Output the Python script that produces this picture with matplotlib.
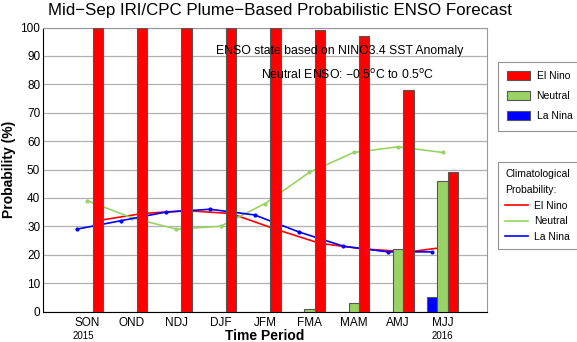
import numpy as np
import matplotlib
matplotlib.use('Agg')
import matplotlib.pyplot as plt
from matplotlib.patches import Patch
from matplotlib.lines import Line2D

plt.rcParams['font.family'] = ['Liberation Sans', 'DejaVu Sans']

# data
periods = ['SON', 'OND', 'NDJ', 'DJF', 'JFM', 'FMA', 'MAM', 'AMJ', 'MJJ']
el_nino = [100, 100, 100, 100, 100, 99, 97, 78, 49]
neutral = [0, 0, 0, 0, 0, 1, 3, 22, 46]
la_nina = [0, 0, 0, 0, 0, 0, 0, 0, 5]
clim_el_nino = [32, 34.5, 35.5, 34.5, 29, 24, 22, 21, 23]
clim_neutral = [39, 33, 29, 30, 38, 49, 56, 58, 56]
clim_la_nina = [29, 32, 35, 36, 34, 28, 23, 21, 21]

c_red = '#ff0000'
c_green = '#99d366'
c_blue = '#0000ff'

fig = plt.figure(figsize=(5.77, 3.42), dpi=100)
ax = fig.add_axes([43 / 577, 1 - 311.5 / 342, 444 / 577, 284 / 342])

x = np.arange(1, len(periods) + 1)
w = 0.235

# climatology lines (behind the bars)
ax.plot(x + w, clim_el_nino, color=c_red, lw=1.2, zorder=2)
ax.plot(x, clim_neutral, color=c_green, lw=1.2, marker='o', ms=2, zorder=2)
ax.plot(x - w, clim_la_nina, color=c_blue, lw=1.2, marker='o', ms=2, zorder=2)

bar_kw = dict(width=w, edgecolor='#555555', linewidth=0.8, zorder=3)
for xi, v in zip(x, la_nina):
    if v > 0:
        ax.bar(xi - w, v, color=c_blue, **bar_kw)
for xi, v in zip(x, neutral):
    if v > 0:
        ax.bar(xi, v, color=c_green, **bar_kw)
ax.bar(x + w, el_nino, color=c_red, **bar_kw)

ax.set_xlim(0, 10)
ax.set_ylim(0, 100)
ax.set_yticks(range(0, 101, 10))
ax.set_xticks(x)
ax.set_xticklabels(periods, fontsize=8.5)
ax.tick_params(axis='both', length=0, labelsize=8.5)
ax.tick_params(axis='x', pad=4)
ax.tick_params(axis='y', pad=2)
ax.grid(axis='y', color='#b0b0b0', lw=0.9, zorder=0)
ax.set_axisbelow(True)
for s in ['top', 'right']:
    ax.spines[s].set_color('#999999')
for s in ['left', 'bottom']:
    ax.spines[s].set_color('black')

ax.text(1 - 0.1, -0.07, '2015', transform=ax.get_xaxis_transform(),
        ha='center', va='top', fontsize=7)
ax.text(9, -0.07, '2016', transform=ax.get_xaxis_transform(),
        ha='center', va='top', fontsize=7)

fig.text(265 / 577, 1 - 336.5 / 342, 'Time Period', ha='center', va='center',
         fontsize=10, fontweight='bold')
fig.text(9 / 577, 1 - 169 / 342, 'Probability (%)', ha='center', va='center',
         rotation=90, fontsize=10, fontweight='bold')
fig.text(280 / 577, 1 - 11 / 342,
         'Mid\u2212Sep IRI/CPC Plume\u2212Based Probabilistic ENSO Forecast',
         ha='center', va='center', fontsize=12.2)

fig.text(340 / 577, 1 - 51 / 342, 'ENSO state based on NINO3.4 SST Anomaly',
         ha='center', va='center', fontsize=8.8)
fig.text(348 / 577, 1 - 75 / 342,
         'Neutral ENSO: \u22120.5$^\\mathrm{o}$C to 0.5$^\\mathrm{o}$C',
         ha='center', va='center', fontsize=8.8)

h1 = [Patch(facecolor=c_red, edgecolor='#555555', lw=0.8),
      Patch(facecolor=c_green, edgecolor='#555555', lw=0.8),
      Patch(facecolor=c_blue, edgecolor='#555555', lw=0.8)]
leg1 = fig.legend(h1, ['El Nino', 'Neutral', 'La Nina'],
                  loc='upper left', bbox_to_anchor=(498 / 577, 1 - 61.5 / 342),
                  fontsize=7.5, frameon=True, fancybox=False, edgecolor='#777777',
                  handlelength=2.2, handleheight=1.0, labelspacing=0.95,
                  handletextpad=0.6, borderpad=0.9, borderaxespad=0)
leg1.get_frame().set_linewidth(0.8)

h2 = [Line2D([], [], color=c_red, lw=1.2),
      Line2D([], [], color=c_green, lw=1.2),
      Line2D([], [], color=c_blue, lw=1.2)]
leg2 = fig.legend(h2, ['El Nino', 'Neutral', 'La Nina'],
                  loc='upper left', bbox_to_anchor=(498 / 577, 1 - 161.5 / 342),
                  title='Climatological\nProbability:', title_fontsize=7.5,
                  alignment='left',
                  fontsize=7.5, frameon=True, fancybox=False, edgecolor='#777777',
                  handlelength=2.2, labelspacing=0.55,
                  handletextpad=0.6, borderpad=0.7, borderaxespad=0)
leg2.get_title().set_linespacing(1.75)
leg2.get_frame().set_linewidth(0.8)

fig.savefig('out.png', dpi=100)
